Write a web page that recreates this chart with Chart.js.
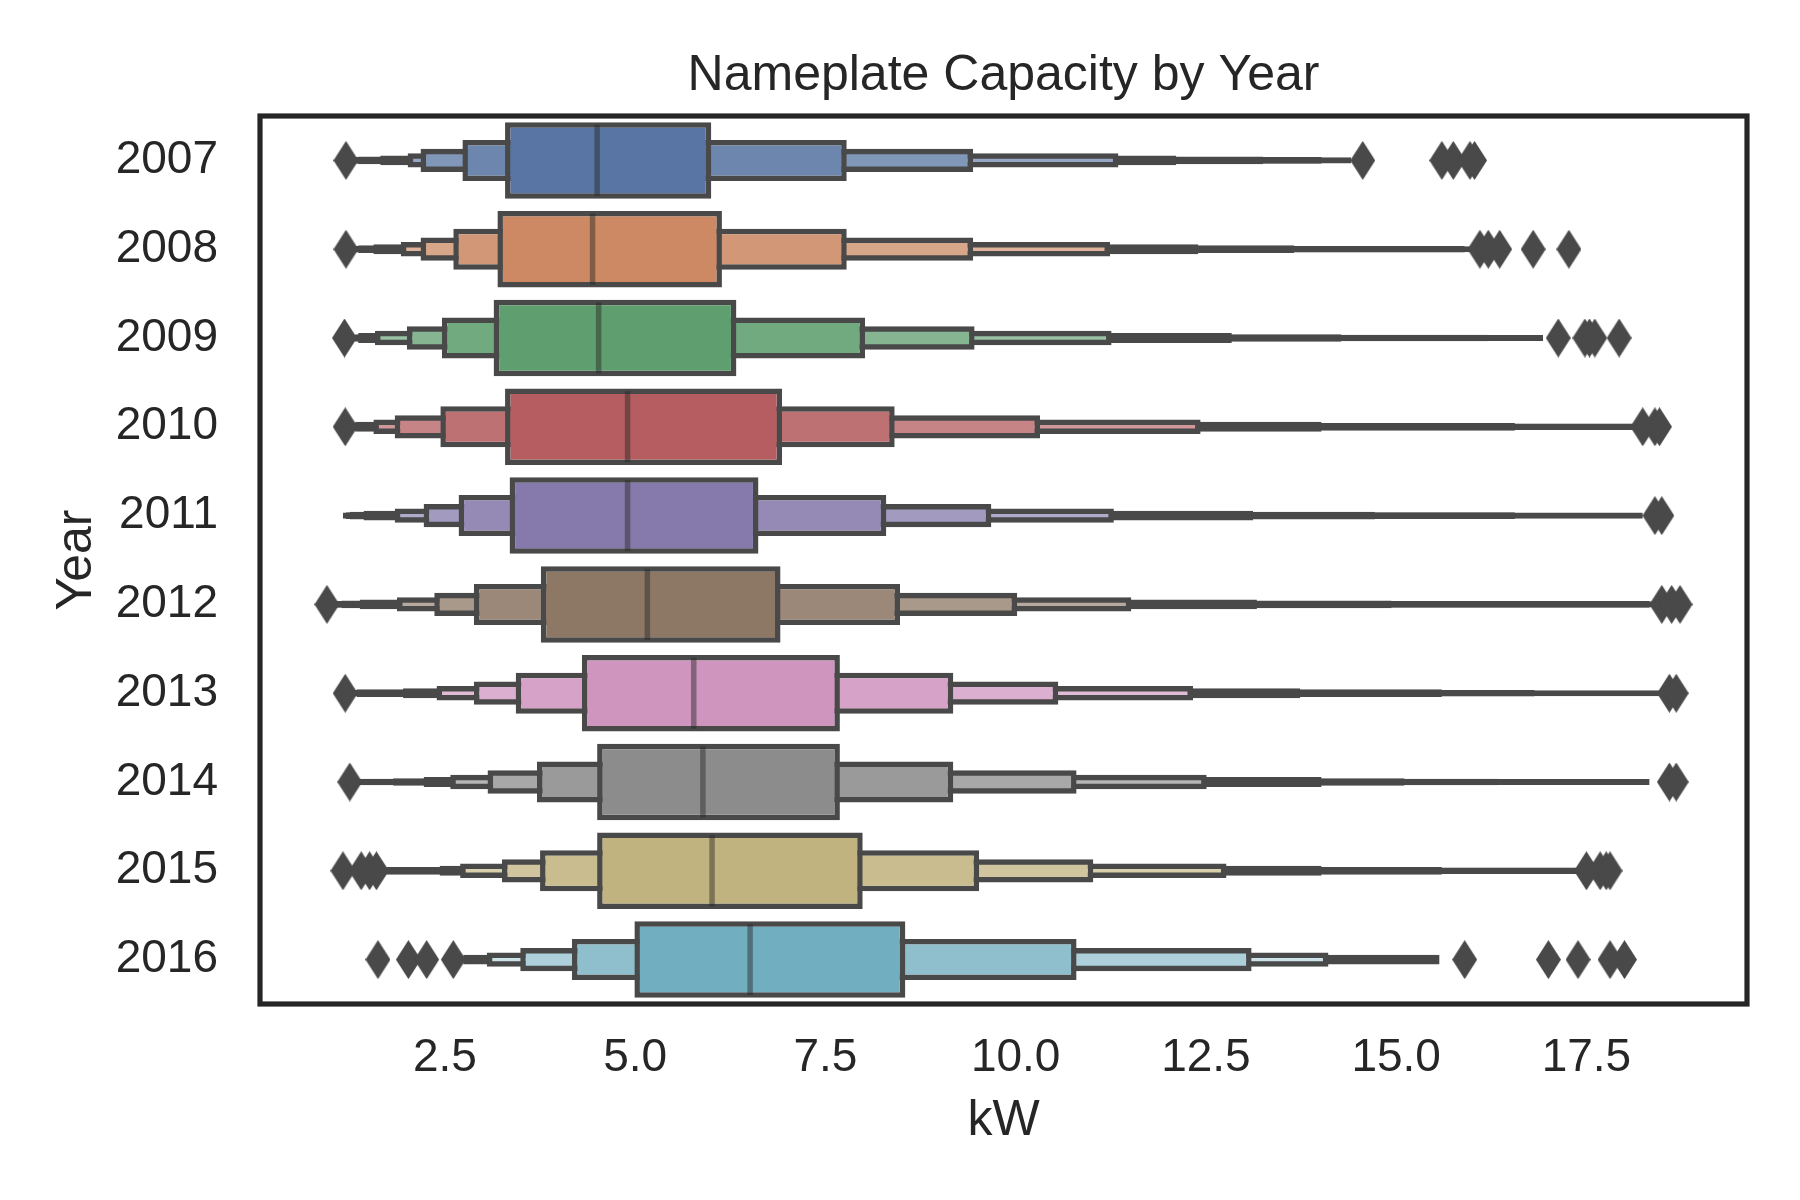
<!DOCTYPE html>
<html>
<head>
<meta charset="utf-8">
<script src="https://cdn.jsdelivr.net/npm/chart.js@4.4.1/dist/chart.umd.min.js"></script>
<style>
  html, body { margin: 0; background: #fff; }
  #wrap { width: 1800px; height: 1200px; }
</style>
</head>
<body>
<div id="wrap"><canvas id="chart" width="1800" height="1200"></canvas></div>
<script>
(function() {
'use strict';

// --- data (kW) ---
const years = ['2007', '2008', '2009', '2010', '2011', '2012', '2013', '2014', '2015', '2016'];

const medians = [4.50, 4.44, 4.52, 4.90, 4.90, 5.16, 5.77, 5.89, 6.01, 6.51];

// letter values, innermost box (IQR) first, then outward
const lowerEnds = [
  [3.29, 2.73, 2.18, 2.01, 1.65, 1.36, 1.32, 1.30],
  [3.19, 2.61, 2.18, 1.92, 1.56, 1.36, 1.32, 1.30],
  [3.14, 2.46, 2.00, 1.58, 1.36, 1.32, 1.30, 1.28],
  [3.29, 2.44, 1.84, 1.56, 1.32, 1.28, 1.26, 1.24],
  [3.35, 2.68, 2.22, 1.84, 1.43, 1.25, 1.20, 1.16],
  [3.76, 2.88, 2.36, 1.87, 1.38, 1.14, 1.05, 1.00],
  [4.30, 3.43, 2.88, 2.39, 1.95, 1.34, 1.30, 1.28],
  [4.50, 3.71, 3.06, 2.57, 2.22, 1.82, 1.41, 1.35],
  [4.50, 3.75, 3.25, 2.70, 2.43, 1.73, 1.70, 1.68],
  [4.99, 4.17, 3.49, 3.05, 2.74]
];

const upperEnds = [
  [6.00, 7.78, 9.44, 11.35, 12.11, 13.25, 14.02, 14.41],
  [6.14, 7.78, 9.44, 11.24, 12.40, 13.66, 15.90, 15.97],
  [6.33, 8.02, 9.46, 11.26, 12.84, 14.28, 16.21, 16.93],
  [6.93, 8.41, 10.32, 12.43, 14.02, 16.56, 18.11, 18.15],
  [6.62, 8.30, 9.68, 11.29, 13.12, 14.72, 16.56, 18.24],
  [6.91, 8.48, 10.02, 11.52, 13.17, 14.94, 18.33, 18.36],
  [7.69, 9.18, 10.56, 12.33, 13.74, 15.60, 16.82, 18.46],
  [7.69, 9.18, 10.80, 12.51, 14.02, 15.11, 16.34, 18.33],
  [7.99, 9.52, 11.02, 12.77, 14.02, 15.60, 17.37, 17.40],
  [8.55, 10.80, 13.10, 14.11, 15.57]
];

const outliers = [
  [1.20, 14.56, 15.60, 15.75, 15.97, 16.03],
  [1.20, 16.10, 16.21, 16.36, 16.80, 17.27],
  [1.18, 17.13, 17.48, 17.54, 17.61, 17.93],
  [1.19, 18.24, 18.40, 18.46],
  [18.40, 18.49],
  [0.95, 18.49, 18.62, 18.73],
  [1.19, 18.59, 18.68],
  [1.25, 18.59, 18.68],
  [1.16, 1.40, 1.51, 1.60, 17.50, 17.68, 17.76, 17.81],
  [1.62, 2.02, 2.26, 2.61, 15.90, 17.00, 17.39, 17.81, 18.00]
];

const kwTicks = [2.5, 5, 7.5, 10, 12.5, 15, 17.5];
const xMin = 0.07;
const xMax = 19.61;

// --- style ---
const palette = ['#5875a3', '#cc8963', '#5f9e6e', '#b55d60', '#857aab',
                 '#8d7866', '#d095bf', '#8c8c8c', '#c1b37f', '#71aec0'];
const FONT = "'Liberation Sans', Arial, sans-serif";
const INK = '#262626';
const EDGE = '#494949';
const LW = 5.5;          // edge line width, px
const BAND = 88.8;       // px per category row
const BOX_WIDTH = 0.8;

Chart.defaults.font.family = FONT;
Chart.defaults.color = INK;

function tint(hex, f) {
  const n = parseInt(hex.slice(1), 16);
  const c = [n >> 16, (n >> 8) & 255, n & 255].map(v => Math.round(v + (255 - v) * f));
  return 'rgb(' + c.join(',') + ')';
}

// thin diamond marker like matplotlib 'd'
function diamond(w, h, color) {
  const cv = document.createElement('canvas');
  cv.width = w; cv.height = h;
  const g = cv.getContext('2d');
  g.fillStyle = color;
  g.beginPath();
  g.moveTo(w / 2, 0);
  g.lineTo(w, h / 2);
  g.lineTo(w / 2, h);
  g.lineTo(0, h / 2);
  g.closePath();
  g.fill();
  return cv;
}

const nLevels = Math.max(...lowerEnds.map(a => a.length));
const datasets = [];

for (let i = 0; i < nLevels; i++) {
  datasets.push({
    type: 'bar',
    label: 'level ' + i,
    indexAxis: 'y',
    grouped: false,
    order: i + 2,
    data: years.map((y, j) => i < lowerEnds[j].length ? [lowerEnds[j][i], upperEnds[j][i]] : null),
    backgroundColor: years.map((y, j) => tint(palette[j], 0.85 * i / (lowerEnds[j].length - 1))),
    borderColor: EDGE,
    borderWidth: LW,
    borderSkipped: false,
    inflateAmount: 0,
    categoryPercentage: 1,
    barPercentage: BOX_WIDTH * Math.pow(0.5, i) + LW / BAND
  });
}

datasets.push({
  type: 'scatter',
  label: 'median',
  order: 1,
  data: years.map((y, j) => ({ x: medians[j], y: y })),
  pointStyle: 'line',
  pointRotation: 90,
  pointRadius: BOX_WIDTH * BAND / 2,
  pointBorderColor: 'rgba(38,38,38,0.45)',
  pointBorderWidth: LW
});

datasets.push({
  type: 'scatter',
  label: 'outliers',
  order: 0,
  data: years.flatMap((y, j) => outliers[j].map(v => ({ x: v, y: y }))),
  pointStyle: diamond(25, 39, EDGE),
  pointRadius: 13
});

// axes frame on all four sides
const frame = {
  id: 'frame',
  afterDatasetsDraw(chart) {
    const { ctx, chartArea: a } = chart;
    ctx.save();
    ctx.strokeStyle = INK;
    ctx.lineWidth = 5.2;
    ctx.strokeRect(a.left, a.top, a.right - a.left, a.bottom - a.top);
    ctx.restore();
  }
};

new Chart(document.getElementById('chart'), {
  type: 'bar',
  data: { labels: years, datasets: datasets },
  plugins: [frame],
  options: {
    responsive: false,
    animation: false,
    events: [],
    layout: { padding: { left: 0, right: 53, top: 0, bottom: 0 } },
    plugins: {
      legend: { display: false },
      tooltip: { enabled: false },
      title: {
        display: true,
        text: 'Nameplate Capacity by Year',
        color: INK,
        fullSize: false,
        font: { family: FONT, size: 50, weight: 'normal' },
        padding: { top: 46, bottom: 10 }
      }
    },
    scales: {
      x: {
        type: 'linear',
        min: xMin,
        max: xMax,
        offset: false,
        afterBuildTicks: s => { s.ticks = kwTicks.map(v => ({ value: v })); },
        afterFit: s => { s.height = 196; },
        grid: { display: false, drawTicks: false, offset: false },
        border: { display: false },
        ticks: {
          color: INK,
          font: { size: 46 },
          padding: 27,
          callback: v => Number(v).toFixed(1)
        },
        title: {
          display: true,
          text: 'kW',
          color: INK,
          font: { size: 50 },
          padding: { top: 0, bottom: 49 }
        }
      },
      y: {
        type: 'category',
        labels: years,
        offset: true,
        afterFit: s => { s.width = 260; },
        grid: { display: false, drawTicks: false, offset: true },
        border: { display: false },
        ticks: { color: INK, font: { size: 46 }, padding: 42 },
        title: {
          display: true,
          text: 'Year',
          color: INK,
          font: { size: 50 },
          padding: { top: 47, bottom: 0 }
        }
      }
    }
  }
});

})();
</script>
</body>
</html>
